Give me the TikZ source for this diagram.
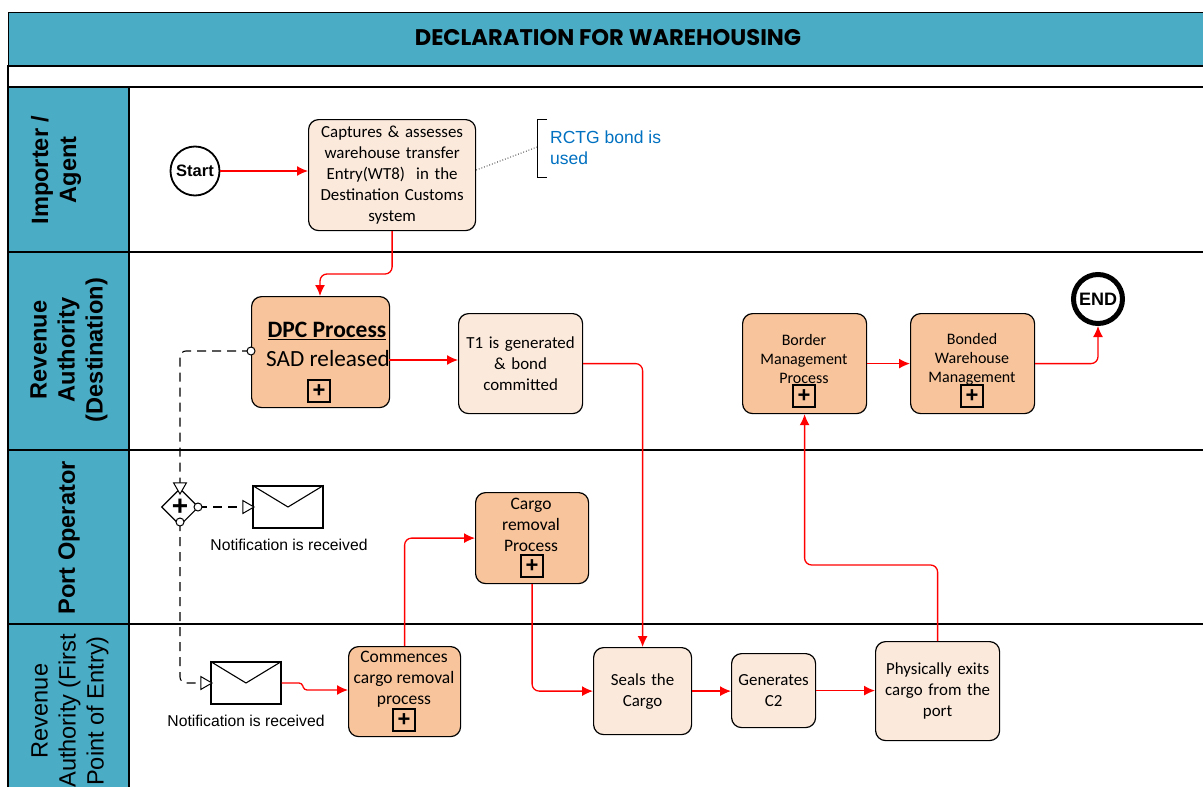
\documentclass[tikz,border=0pt]{standalone}
\usepackage{fontspec}
\setmainfont{Carlito}
\newfontfamily\arialf{Liberation Sans}
\newfontfamily\titlef{Poppins}
\usetikzlibrary{arrows.meta,shapes.geometric}
\definecolor{teal}{HTML}{4BACC6}
\definecolor{lightbox}{HTML}{FBE9DC}
\definecolor{darkbox}{HTML}{F8C49B}
\definecolor{blueT}{HTML}{0070C0}
\tikzset{
 lane/.style={draw=black,line width=1.2pt},
 hdr/.style={draw=black,line width=1.2pt,fill=teal},
 lanetxt/.style={font=\arialf\fontsize{23.6}{28}\selectfont\bfseries,rotate=90,align=center,text=black},
 task/.style={draw=black,line width=1.2pt,rounded corners=10pt,align=center,inner sep=0pt,anchor=north west,font=\fontsize{16.9}{21}\selectfont},
 light/.style={task,fill=lightbox},
 dark/.style={task,fill=darkbox},
 wh/.style 2 args={minimum width=#1pt,minimum height=#2pt,text width=#1pt},
 flow/.style={draw=red,line width=1.3pt,rounded corners=7pt,-{Latex[length=11pt,width=10pt]}},
 msg/.style={draw=black,line width=1.1pt,dash pattern=on 9pt off 6pt,rounded corners=6pt},
 opentri/.style={draw=black,fill=white,line width=1pt,regular polygon,regular polygon sides=3,minimum size=15pt,inner sep=0pt},
 ring/.style={circle,draw=black,fill=white,line width=1pt,minimum size=8pt,inner sep=0pt},
 plusbox/.style={draw=black,line width=1.2pt,minimum size=22pt,inner sep=0pt,font=\arialf\fontsize{22}{22}\selectfont\bfseries},
 note/.style={font=\arialf\fontsize{15.7}{17}\selectfont},
 env/.style={draw=black,fill=white,line width=1.2pt,minimum width=70pt,minimum height=42pt,inner sep=0pt}
}
\begin{document}
\begin{tikzpicture}[x=1pt,y=-1pt]
\useasboundingbox (0,0) rectangle (1203,787);
\clip (0,0) rectangle (1203,787);
% frame and lanes
\node[hdr,anchor=north west,minimum width=1200pt,minimum height=54pt,inner sep=0pt] (title) at (8,12) {};
\node[font=\titlef\fontsize{22.6}{24}\selectfont\bfseries] (titletxt) at (608,38) {DECLARATION FOR WAREHOUSING};
\draw[lane] (8,66) rectangle (1210,87);
\draw[lane] (129,87) rectangle (1210,252);
\draw[lane] (129,252) rectangle (1210,450);
\draw[lane] (129,450) rectangle (1210,624);
\draw[lane] (129,624) rectangle (1210,795);
\draw[hdr] (8,87) rectangle (129,252);
\draw[hdr] (8,252) rectangle (129,450);
\draw[hdr] (8,450) rectangle (129,624);
\draw[hdr] (8,624) rectangle (129,795);
\node[lanetxt] (l1) at (56,170) {Importer /\\Agent};
\node[lanetxt] (l2) at (69,350) {Revenue\\Authority\\(Destination)};
\node[lanetxt] (l3) at (69,538) {Port Operator};
\node[lanetxt,font=\arialf\fontsize{23.6}{28}\selectfont] (l4) at (70,711) {Revenue\\Authority (First\\Point of Entry)};
% events
\node[circle,draw=black,fill=white,line width=1.8pt,minimum size=49pt,inner sep=0pt,font=\arialf\fontsize{16.5}{16}\selectfont\bfseries] (start) at (195,171) {Start};
\node[circle,draw=black,fill=white,line width=5pt,minimum size=49pt,inner sep=0pt,font=\arialf\fontsize{18}{18}\selectfont\bfseries] (end) at (1098,299) {END};
% tasks
\node[light,wh={167}{111}] (capture) at (308,119) {Captures \& assesses\\warehouse transfer\\Entry(WT8)\ \ in the\\Destination Customs\\system};
\node[dark,wh={138}{111}] (dpc) at (251,296) {};
\node[font=\fontsize{23.5}{24}\selectfont\bfseries] (dpct) at (327,331) {\underline{DPC Process}};
\node[font=\fontsize{23.2}{24}\selectfont] (dpcs) at (328,359) {SAD released};
\node[light,wh={124}{100}] (t1) at (458,313) {T1 is generated\\\&\ bond\\committed};
\node[dark,wh={124}{100}] (border) at (742,313) {};
\node[font=\fontsize{16}{19}\selectfont,align=center] (bordert) at (804,359) {Border\\Management\\Process};
\node[dark,wh={124}{100}] (bonded) at (910,313) {};
\node[font=\fontsize{16}{19}\selectfont,align=center] (bondedt) at (972,359) {Bonded\\Warehouse\\Management};
\node[dark,wh={113}{91}] (cargo) at (475,492) {};
\node[font=\fontsize{17.5}{20.7}\selectfont,align=center] (cargot) at (531,525) {Cargo\\removal\\Process};
\node[dark,wh={112}{90}] (comm) at (348,646) {};
\node[font=\fontsize{17.5}{21}\selectfont,align=center] (commt) at (404,679) {Commences\\cargo removal\\process};
\node[light,wh={98}{87}] (seals) at (593,647) {Seals the\\Cargo};
\node[light,wh={84}{74}] (gen) at (731,653) {Generates\\C2};
\node[light,wh={124}{99}] (phys) at (875,641) {Physically exits\\cargo from the\\port};
% subprocess markers
\node[plusbox] (p1) at (319,391) {+};
\node[plusbox] (p2) at (532,566) {+};
\node[plusbox] (p3) at (404,720) {+};
\node[plusbox] (p4) at (804,396) {+};
\node[plusbox] (p5) at (972,396) {+};
% annotation
\node[font=\arialf\fontsize{17.5}{21}\selectfont,text=blueT,align=left,anchor=north west,inner sep=0pt] (rctg) at (550,131) {RCTG bond is\\used};
\coordinate (brk) at (537,147);
\draw[black,line width=1pt] (547,119) -- (537,119) -- (537,177) -- (547,177);
\draw[black,line width=0.8pt,dotted] (capture.east) ++(0,-5) -- (brk);
% gateway and envelopes
\node[diamond,draw=black,fill=white,line width=1.1pt,minimum width=37pt,minimum height=37pt,inner sep=0pt] (gw) at (180,507) {};
\node[font=\arialf\fontsize{28}{28}\selectfont\bfseries,inner sep=0pt] (gwp) at (180,507) {+};
\node[env] (env1) at (288,507) {};
\draw[black,line width=1.1pt] (env1.north west) -- (env1.center) -- (env1.north east);
\node[note] (n1) at (289,545) {Notification is received};
\node[env] (env2) at (246,683) {};
\draw[black,line width=1.1pt] (env2.north west) -- (env2.center) -- (env2.north east);
\node[note] (n2) at (246,721) {Notification is received};
% message flows
\coordinate (d1) at (180,483);
\coordinate (dpcw) at (251,351);
\coordinate (gwr) at (198,507);
\coordinate (gwb) at (180,522);
\draw[msg] (dpcw) -| (d1);
\draw[msg] (gwr) -- (244,507);
\draw[msg] (gwb) |- (201,683);
\node[ring] (r1) at (dpcw) {};
\node[ring] (r2) at (gwr) {};
\node[ring] (r3) at (gwb) {};
\node[opentri,shape border rotate=180] (a1) at (180,486.5) {};
\node[opentri,shape border rotate=-90] (a2) at (246.5,507) {};
\node[opentri,shape border rotate=-90] (a3) at (204.5,683) {};
% sequence flows
\coordinate (c1) at (320,274);
\coordinate (dpcr) at (389,360);
\draw[flow] (start) -- (capture.west |- start);
\draw[flow] (capture.south) |- (c1) -- (c1 |- dpc.north);
\draw[flow] (dpcr) -- (t1.west |- dpcr);
\draw[flow] (t1.east) -| (seals.north);
\draw[flow] (cargo.south) |- (seals.west);
\draw[flow] (comm.north) |- (cargo.west);
\draw[flow] (seals.east) -- (gen.west |- seals.east);
\draw[flow] (gen.east) -- (phys.west |- gen.east);
\coordinate (c2) at (border.south |- 0,565);
\draw[flow] (phys.north) |- (c2) -- (border.south);
\draw[flow] (border.east) -- (bonded.west);
\draw[flow] (bonded.east) -| (end.south);
\coordinate (c3) at (302,683);
\coordinate (c4) at (304,690);
\draw[flow,rounded corners=3pt] (env2.east) -- (c3) -- (c4) -- (comm.west |- c4);
\end{tikzpicture}
\end{document}
